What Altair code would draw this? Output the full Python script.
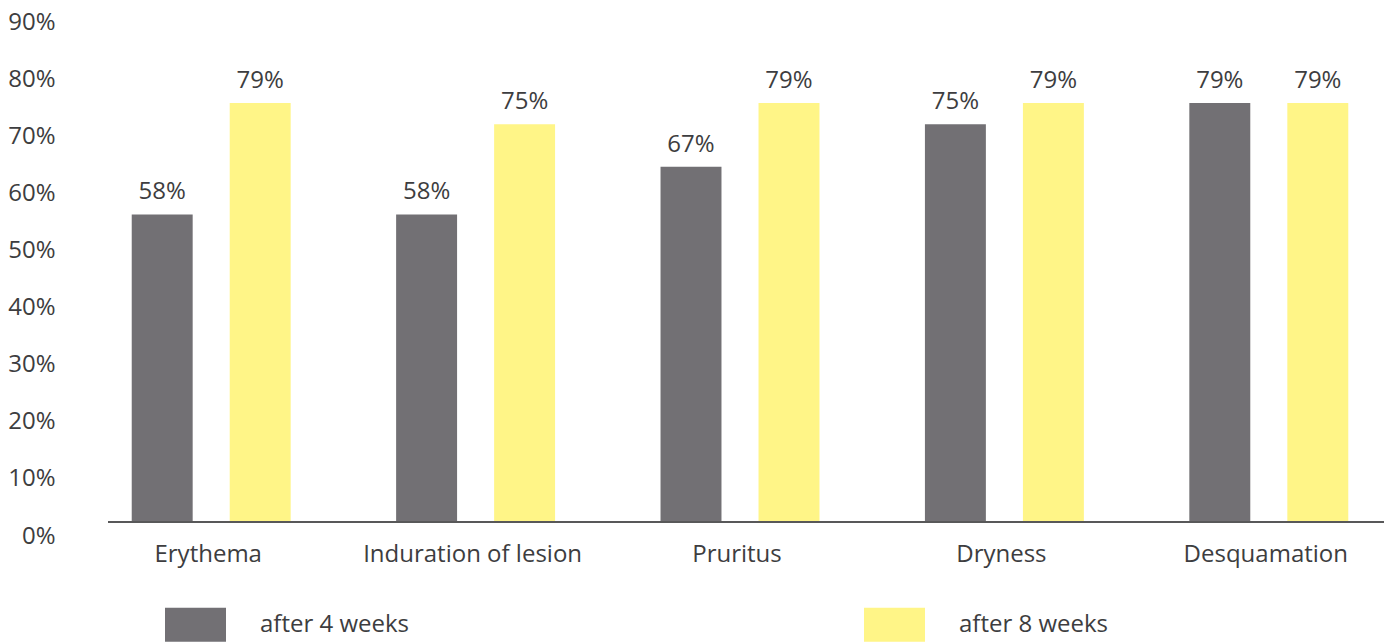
import altair as alt
import pandas as pd

categories = ["Erythema", "Induration of lesion", "Pruritus", "Dryness", "Desquamation"]
series_names = ["after 4 weeks", "after 8 weeks"]
week4 = [58, 58, 67, 75, 79]
week8 = [79, 75, 79, 79, 79]
y_ticks = [0, 10, 20, 30, 40, 50, 60, 70, 80, 90]

rows = []
for c, a, b in zip(categories, week4, week8):
    rows.append({"category": c, "series": series_names[0], "value": a})
    rows.append({"category": c, "series": series_names[1], "value": b})
df = pd.DataFrame(rows)
ticks_df = pd.DataFrame({"tick": y_ticks})

FONT = "Open Sans"
TXT = "#3d3d40"
W, H = 1276, 500

xenc = alt.X("category:N", sort=categories,
             scale=alt.Scale(range=[-29, 1293], paddingInner=0, paddingOuter=0),
             axis=alt.Axis(title=None, domain=False, ticks=False, labelFont=FONT,
                           labelFontSize=24, labelColor=TXT, labelPadding=20, labelAngle=0,
                           labelLimit=0, labelOffset=-3))
xoff = alt.XOffset("series:N", sort=series_names,
                   scale=alt.Scale(paddingInner=0.378, paddingOuter=0.538))
ybar = alt.Y("value:Q", scale=alt.Scale(domain=[0, 94.3], nice=False, zero=True), axis=None)

bars = alt.Chart(df).mark_bar().encode(
    x=xenc,
    xOffset=xoff,
    y=ybar,
    color=alt.Color("series:N", sort=series_names,
                    scale=alt.Scale(domain=series_names, range=["#727074", "#fff587"]),
                    legend=alt.Legend(title=None, orient="none", legendX=57, legendY=572,
                                      direction="horizontal", columns=2,
                                      symbolType="M-1,-0.56H1V0.56H-1Z", symbolSize=3721,
                                      symbolStrokeWidth=0, symbolOpacity=1,
                                      labelFont=FONT, labelFontSize=24, labelColor=TXT,
                                      labelOffset=34, columnPadding=454, padding=0)),
)

labels = alt.Chart(df).mark_text(baseline="alphabetic", dy=-15, font=FONT, fontSize=24,
                                 color=TXT).encode(
    x=xenc,
    xOffset=xoff,
    y=ybar,
    text=alt.Text("label:N"),
).transform_calculate(label="datum.value + '%'")

bar_layer = alt.layer(bars, labels)

axis_layer = alt.Chart(ticks_df).mark_point(opacity=0).encode(
    y=alt.Y("tick:Q", scale=alt.Scale(domain=[0, 90], range=[514, 0], nice=False),
            axis=alt.Axis(title=None, orient="left", values=y_ticks, domain=False, ticks=False,
                          grid=False, labelFont=FONT, labelFontSize=24, labelColor=TXT,
                          labelPadding=53, labelExpr="datum.value + '%'")),
)

baseline = alt.Chart(ticks_df).mark_rule(color="#58585a", strokeWidth=1.5).encode(
    x=alt.value(0), x2=alt.value(1280), y=alt.value(H)
)

chart = alt.layer(bar_layer, axis_layer, baseline).resolve_scale(y="independent").properties(
    width=W, height=H,
    autosize=alt.AutoSizeParams(type="none"),
    padding={"left": 100, "top": 14, "right": 0, "bottom": 120},
).configure_view(stroke=None)

chart.save("out.html", embed_options={"renderer": "svg", "actions": False})
